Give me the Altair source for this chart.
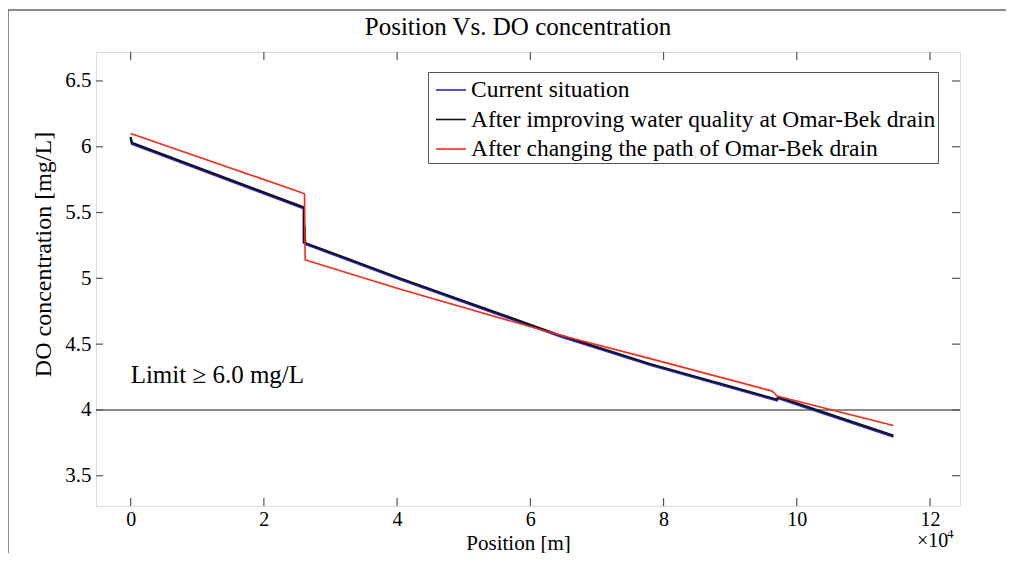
import altair as alt
import pandas as pd

# ---- data (position in units of 10^4 m, DO in mg/L) ----
series_names = ["Current situation",
                "After improving water quality at Omar-Bek drain",
                "After changing the path of Omar-Bek drain"]
series_colors = ["#2424d8", "#141414", "#f52a18"]

cur_x = [0.0, 0.02, 2.6, 2.6, 2.61, 2.62, 4.05, 6.45, 7.8, 9.7, 9.72, 11.45]
cur_y = [6.067, 6.022, 5.532, 5.262, 5.392, 5.262, 4.992, 4.559, 4.342, 4.072, 4.09, 3.798]

imp_x = [0.0, 0.02, 2.6, 2.6, 2.61, 2.62, 4.05, 6.45, 7.8, 9.7, 9.72, 11.45]
imp_y = [6.075, 6.03, 5.54, 5.27, 5.40, 5.27, 5.00, 4.567, 4.35, 4.08, 4.098, 3.806]

chg_x = [0.0, 2.55, 2.61, 2.62, 2.65, 4.05, 6.45, 7.8, 9.62, 9.66, 9.7, 11.45]
chg_y = [6.10, 5.655, 5.64, 5.14, 5.136, 4.917, 4.567, 4.39, 4.145, 4.13, 4.105, 3.882]

limit_value = [4.0]
x_ticks = [0, 2, 4, 6, 8, 10, 12]
y_ticks = [3.5, 4, 4.5, 5, 5.5, 6, 6.5]
x_domain = [-0.52, 12.45]
y_domain = [3.27, 6.72]

W, H = 864, 454
SERIF = "Liberation Serif"

def frame(xs, ys, name):
    return pd.DataFrame({"x": xs, "y": ys, "series": name, "i": list(range(len(xs)))})

xs = alt.Scale(domain=x_domain, nice=False, zero=False)
ys = alt.Scale(domain=y_domain, nice=False, zero=False)
color_scale = alt.Scale(domain=series_names, range=series_colors)

x_axis = alt.Axis(values=x_ticks, format="d", title="Position [m]", ticks=False, domain=False, grid=False,
                  labelFont=SERIF, labelFontSize=20, labelColor="black", labelPadding=3,
                  titleFont=SERIF, titleFontSize=21, titleFontWeight="normal", titleColor="black",
                  titleX=422, titleY=43, titleBaseline="alphabetic")
y_axis = alt.Axis(values=y_ticks, format=".1~f", title="DO concentration [mg/L]", ticks=False, domain=False,
                  grid=False, labelFont=SERIF, labelFontSize=21, labelColor="black", labelPadding=5,
                  titleFont=SERIF, titleFontSize=24, titleFontWeight="normal", titleColor="black",
                  titleX=-53, titleY=202, titleBaseline="middle", titleAlign="center", titleAngle=-90)

legend = alt.Legend(title=None, orient="none", legendX=332, legendY=20,
                    symbolType="stroke", symbolSize=900, symbolStrokeWidth=1.6, symbolOffset=5,
                    labelFont=SERIF, labelFontSize=23.5, labelColor="black", labelOffset=4,
                    labelLimit=700, strokeColor="#555", fillColor="white", padding=2,
                    rowPadding=1.5)

def line_layer(xv, yv, name, width):
    return alt.Chart(frame(xv, yv, name)).mark_line(strokeWidth=width, clip=True).encode(
        x=alt.X("x:Q", scale=xs, axis=x_axis),
        y=alt.Y("y:Q", scale=ys, axis=y_axis),
        color=alt.Color("series:N", scale=color_scale, legend=legend),
        order="i:Q",
    )

limit_rule = alt.Chart(pd.DataFrame({"y": limit_value})).mark_rule(color="#666", strokeWidth=1.5).encode(
    y=alt.Y("y:Q", scale=ys), x=alt.value(0), x2=alt.value(W))

# inward tick marks (MATLAB box style)
xt = pd.DataFrame({"x": x_ticks})
yt = pd.DataFrame({"y": y_ticks})
tick_bottom = alt.Chart(xt).mark_rule(color="#555", strokeWidth=1.2).encode(
    x=alt.X("x:Q", scale=xs), y=alt.value(H), y2=alt.value(H - 8))
tick_top = alt.Chart(xt).mark_rule(color="#555", strokeWidth=1.2).encode(
    x=alt.X("x:Q", scale=xs), y=alt.value(0), y2=alt.value(8))
tick_left = alt.Chart(yt).mark_rule(color="#555", strokeWidth=1.2).encode(
    y=alt.Y("y:Q", scale=ys), x=alt.value(0), x2=alt.value(7))
tick_right = alt.Chart(yt).mark_rule(color="#555", strokeWidth=1.2).encode(
    y=alt.Y("y:Q", scale=ys), x=alt.value(W), x2=alt.value(W - 8))

# figure frame (left and top edges visible in the reference)
frame_top = alt.Chart(pd.DataFrame({"a": [0]})).mark_rule(color="#666", strokeWidth=1.5).encode(
    x=alt.value(-88), x2=alt.value(912), y=alt.value(-42))
frame_left = alt.Chart(pd.DataFrame({"a": [0]})).mark_rule(color="#666", strokeWidth=1.5).encode(
    x=alt.value(-88), y=alt.value(-42), y2=alt.value(512))

title_text = alt.Chart(pd.DataFrame({"t": ["Position Vs. DO concentration"]})).mark_text(
    font=SERIF, fontSize=25, color="black", align="center", baseline="alphabetic").encode(
    text="t:N", x=alt.value(422), y=alt.value(-17))

limit_text = alt.Chart(pd.DataFrame({"t": ["Limit \u2265 6.0 mg/L"], "x": [0.0], "y": [4.205]})).mark_text(
    font=SERIF, fontSize=25, color="black", align="left", baseline="alphabetic").encode(
    text="t:N", x=alt.X("x:Q", scale=xs), y=alt.Y("y:Q", scale=ys))

exp_text = alt.Chart(pd.DataFrame({"t": ["\u00d710"]})).mark_text(
    font=SERIF, fontSize=20, color="black", align="left", baseline="alphabetic").encode(
    text="t:N", x=alt.value(821), y=alt.value(495))
exp_sup = alt.Chart(pd.DataFrame({"t": ["4"]})).mark_text(
    font=SERIF, fontSize=13, color="black", align="left", baseline="alphabetic").encode(
    text="t:N", x=alt.value(851), y=alt.value(486))

chart = alt.layer(
    limit_rule,
    line_layer(cur_x, cur_y, series_names[0], 2.4),
    line_layer(imp_x, imp_y, series_names[1], 2.0),
    line_layer(chg_x, chg_y, series_names[2], 1.6),
    tick_bottom, tick_top, tick_left, tick_right,
    frame_top, frame_left, title_text, limit_text, exp_text, exp_sup,
).properties(
    width=W, height=H,
    autosize=alt.AutoSizeParams(type="none"),
    padding={"left": 88, "top": 44, "right": 46, "bottom": 47},
).configure_view(stroke="#555", strokeWidth=1.2).configure(background="white")

chart.save("out.html", embed_options={"renderer": "svg", "actions": False})
